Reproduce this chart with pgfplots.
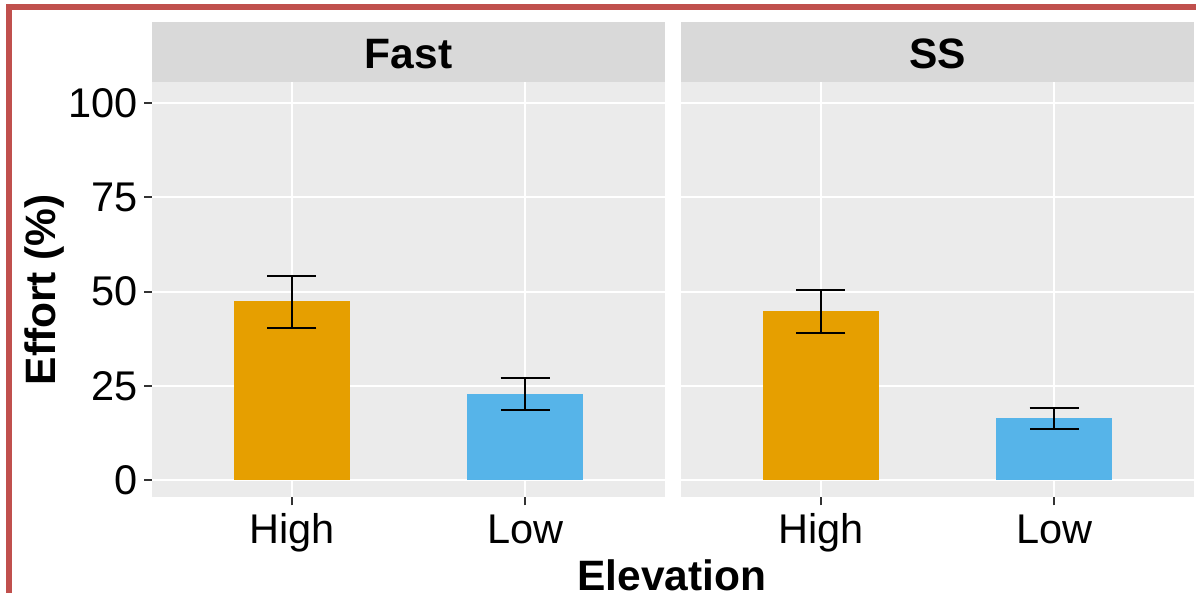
\documentclass[border=0pt]{standalone}
\usepackage{fontspec}
\setmainfont{Liberation Sans}
\usepackage{pgfplots}
\pgfplotsset{compat=1.18}
\usepackage{pgfplotstable}

\definecolor{frameRed}{HTML}{C0504D}
\definecolor{panelBg}{HTML}{EBEBEB}
\definecolor{stripBg}{HTML}{D9D9D9}
\definecolor{tickGrey}{HTML}{333333}
\definecolor{highOrange}{HTML}{E69F00}
\definecolor{lowBlue}{HTML}{56B4E9}

% mean effort with upper / lower error half-widths
\pgfplotstableread{
x y ep em
1 47.6 6.6 7.2
}\fastHigh
\pgfplotstableread{
x y ep em
2 22.9 4.1 4.2
}\fastLow
\pgfplotstableread{
x y ep em
1 44.8 5.6 5.9
}\ssHigh
\pgfplotstableread{
x y ep em
2 16.5 2.5 3.1
}\ssLow

\newcommand{\tickfont}{\fontsize{41.5}{41.5}\selectfont}
\newcommand{\titlefont}{\bfseries\fontsize{42.5}{42.5}\selectfont}

\pgfplotsset{
  facet/.style={
    scale only axis, width=513pt, height=415.3pt,
    anchor=south west,
    xmin=0.4, xmax=2.6, ymin=-4.6, ymax=105.65,
    axis background/.style={fill=panelBg},
    axis line style={draw=none},
    xtick={1,2}, xticklabels={High,Low},
    ytick={0,25,50,75,100},
    grid=major, major grid style={white, line width=2pt},
    tick align=outside, major tick length=8pt,
    tick style={draw=tickGrey, line width=2pt},
    xtick pos=left, ytick pos=left,
    tick label style={font=\tickfont, text=black},
    /pgf/number format/assume math mode=true,
    xticklabel style={anchor=base, inner sep=0pt, yshift=-38pt},
    yticklabel style={anchor=east, inner sep=0pt, xshift=-6pt},
    clip=false,
  },
  % bar with asymmetric error bar and horizontal caps
  bar/.style={
    ybar, bar width=0.5, bar shift=0pt, draw=none, fill=#1,
    error bars/.cd, y dir=both, y explicit, error mark=-,
    error bar style={draw=black, line width=2pt},
    error mark options={draw=black, line width=2pt, rotate=90, mark size=24.5pt},
  },
}

\begin{document}
\begin{tikzpicture}
\useasboundingbox (0pt,0pt) rectangle (1196pt,593pt);

% Fast panel
\begin{axis}[facet, at={(152pt,95.7pt)}]
  \fill[stripBg] (rel axis cs:0,1) rectangle ([yshift=60pt]rel axis cs:1,1);
  \node[font=\titlefont] at ([yshift=28pt]rel axis cs:0.5,1) {Fast};
  \node[font=\titlefont, rotate=90, anchor=center] at (axis description cs:-0.2086,0.5) {Effort (\%)};
  \addplot[bar=highOrange] table[x=x, y=y, y error plus=ep, y error minus=em] {\fastHigh};
  \addplot[bar=lowBlue] table[x=x, y=y, y error plus=ep, y error minus=em] {\fastLow};
\end{axis}

% SS panel
\begin{axis}[facet, at={(681pt,95.7pt)}, yticklabels={}, ytick style={draw=none}]
  \fill[stripBg] (rel axis cs:0,1) rectangle ([yshift=60pt]rel axis cs:1,1);
  \node[font=\titlefont] at ([yshift=28pt]rel axis cs:0.5,1) {SS};
  \addplot[bar=highOrange] table[x=x, y=y, y error plus=ep, y error minus=em] {\ssHigh};
  \addplot[bar=lowBlue] table[x=x, y=y, y error plus=ep, y error minus=em] {\ssLow};
\end{axis}

\node[font=\titlefont, anchor=base] at (672pt,2pt) {Elevation};

% outer frame
\fill[frameRed] (6pt,0pt) rectangle (12pt,589pt);
\fill[frameRed] (6pt,583pt) rectangle (1196pt,589pt);
\end{tikzpicture}
\end{document}
